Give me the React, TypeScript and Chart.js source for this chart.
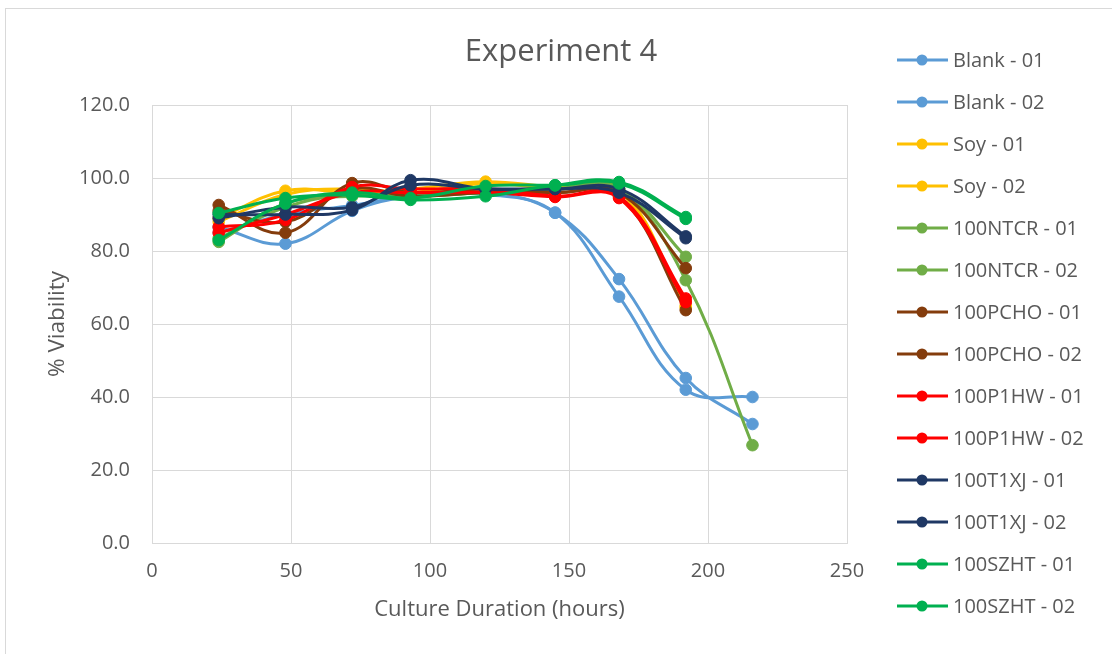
import React, { useEffect, useRef } from "react";
import { Chart, registerables } from "chart.js";

Chart.register(...registerables);

const hours = [24, 48, 72, 93, 120, 145, 168, 192, 216];

const seriesNames = [
  "Blank - 01",
  "Blank - 02",
  "Soy - 01",
  "Soy - 02",
  "100NTCR - 01",
  "100NTCR - 02",
  "100PCHO - 01",
  "100PCHO - 02",
  "100P1HW - 01",
  "100P1HW - 02",
  "100T1XJ - 01",
  "100T1XJ - 02",
  "100SZHT - 01",
  "100SZHT - 02",
];

const seriesColors = [
  "#5B9BD5", "#5B9BD5",
  "#FFC000", "#FFC000",
  "#70AD47", "#70AD47",
  "#843C0C", "#843C0C",
  "#FF0000", "#FF0000",
  "#1F3864", "#1F3864",
  "#00B050", "#00B050",
];

const blank01 = [86.5, 82, 91, 95, 96, 90.5, 72.3, 45.2, 32.6];
const blank02 = [85, 90, 92.5, 95, 95.5, 90.5, 67.5, 42, 40];
const soy01 = [89, 96.5, 96, 97, 99, 97.5, 97, 65, null];
const soy02 = [88, 95.5, 97, 96, 98.5, 97, 96.5, 64.5, null];
const ntcr01 = [82.5, 93, 95, 95, 96, 97, 97, 78.4, null];
const ntcr02 = [83.5, 92, 95.5, 95, 96, 97, 97, 72, 26.8];
const pcho01 = [92.6, 85, 98.6, 96, 97, 96, 96, 75.3, null];
const pcho02 = [91, 88, 97, 95, 96, 96, 95, 63.8, null];
const p1hw01 = [86.6, 88.5, 97.5, 97, 97, 95, 95, 67, null];
const p1hw02 = [85, 90, 96, 96, 96, 94.8, 94.5, 66, null];
const t1xj01 = [90, 90, 91.2, 99.4, 97, 97, 97, 84, null];
const t1xj02 = [89, 92, 92, 98, 97, 97, 96, 83.5, null];
const szht01 = [90.4, 94.5, 95.3, 94, 95, 98, 98.9, 89.3, null];
const szht02 = [83, 93, 96, 94.5, 97.8, 98, 98.5, 88.8, null];

const seriesValues = [
  blank01, blank02, soy01, soy02, ntcr01, ntcr02, pcho01, pcho02,
  p1hw01, p1hw02, t1xj01, t1xj02, szht01, szht02,
];

const yTicks = [0, 20, 40, 60, 80, 100, 120];
const xTicks = [0, 50, 100, 150, 200, 250];

const chartTitle = "Experiment 4";
const xTitle = "Culture Duration (hours)";
const yTitle = "% Viability";

const FONT = "'Open Sans', sans-serif";
const TEXT = "#595959";
const GRID = "#D9D9D9";

const W = 1112;
const H = 654;

export default function App() {
  const ref = useRef<HTMLCanvasElement | null>(null);

  useEffect(() => {
    if (!ref.current) return;
    const n = seriesNames.length;
    const datasets = seriesNames.map((name, i) => ({
      label: name,
      data: hours
        .map((h, j) => ({ x: h, y: seriesValues[i][j] }))
        .filter((p) => p.y !== null && p.y !== undefined),
      borderColor: seriesColors[i],
      backgroundColor: seriesColors[i],
      pointBackgroundColor: seriesColors[i],
      pointBorderColor: seriesColors[i],
      borderWidth: 3,
      pointRadius: 5.8,
      pointBorderWidth: 1,
      tension: 0.4,
      order: n - i,
    }));

    const overlay = {
      id: "overlay",
      afterDraw(chart: any) {
        const ctx = chart.ctx;
        ctx.save();
        ctx.fillStyle = TEXT;
        ctx.font = `31px ${FONT}`;
        ctx.textAlign = "center";
        ctx.textBaseline = "middle";
        ctx.fillText(chartTitle, 561, 52);

        ctx.font = `20px ${FONT}`;
        ctx.textAlign = "left";
        chart.data.datasets.forEach((ds: any, i: number) => {
          const y = 60 + i * 42.0;
          ctx.strokeStyle = ds.borderColor;
          ctx.lineWidth = 3;
          ctx.beginPath();
          ctx.moveTo(897, y);
          ctx.lineTo(948, y);
          ctx.stroke();
          ctx.fillStyle = ds.borderColor;
          ctx.beginPath();
          ctx.arc(922, y, 5.5, 0, Math.PI * 2);
          ctx.fill();
          ctx.fillStyle = TEXT;
          ctx.fillText(ds.label, 953, y + 1);
        });
        ctx.restore();
      },
    };

    const chart = new Chart(ref.current, {
      type: "line",
      data: { datasets: datasets as any },
      options: {
        animation: false,
        responsive: false,
        layout: { padding: { top: 105, right: W - 847, bottom: 0, left: 0 } },
        plugins: {
          legend: { display: false },
          title: { display: false },
          tooltip: { enabled: false },
        },
        scales: {
          x: {
            type: "linear",
            min: xTicks[0],
            max: xTicks[xTicks.length - 1],
            afterFit: (s: any) => {
              s.height = H - 543;
            },
            afterBuildTicks: (s: any) => {
              s.ticks = xTicks.map((v) => ({ value: v }));
            },
            ticks: {
              color: TEXT,
              font: { family: FONT, size: 20 },
              padding: 16,
              maxRotation: 0,
              callback: (v: any) => String(v),
            },
            grid: { color: GRID, lineWidth: 1, drawTicks: false },
            border: { color: GRID, width: 1 },
            title: {
              display: true,
              text: xTitle,
              color: TEXT,
              font: { family: FONT, size: 22 },
              padding: { top: 0, bottom: 31 },
            },
          },
          y: {
            type: "linear",
            min: yTicks[0],
            max: yTicks[yTicks.length - 1],
            afterFit: (s: any) => {
              s.width = 152;
            },
            afterBuildTicks: (s: any) => {
              s.ticks = yTicks.map((v) => ({ value: v }));
            },
            ticks: {
              color: TEXT,
              font: { family: FONT, size: 20 },
              padding: 22,
              callback: (v: any) => Number(v).toFixed(1),
            },
            grid: { color: GRID, lineWidth: 1, drawTicks: false },
            border: { color: GRID, width: 1 },
            title: {
              display: true,
              text: yTitle,
              color: TEXT,
              font: { family: FONT, size: 22.5 },
              padding: { top: 44, bottom: 0 },
            },
          },
        },
      },
      plugins: [overlay],
    });
    return () => chart.destroy();
  }, []);

  return (
    <div
      style={{
        position: "fixed",
        left: 0,
        top: 0,
        width: W,
        height: H,
        overflow: "hidden",
        background: "#fff",
      }}
    >
      <div
        style={{
          position: "absolute",
          left: 5,
          top: 8,
          width: 1300,
          height: 800,
          border: `1px solid ${GRID}`,
        }}
      />
      <canvas
        ref={ref}
        width={W}
        height={H}
        style={{ position: "absolute", left: 0, top: 0, width: W, height: H }}
      />
    </div>
  );
}
